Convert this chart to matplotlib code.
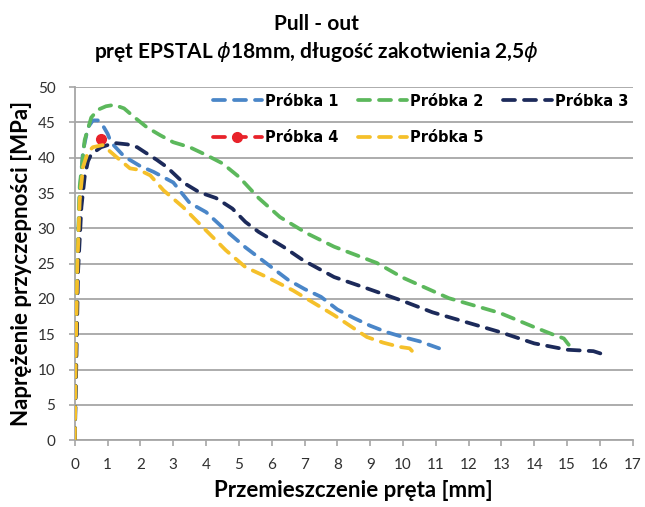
import matplotlib
matplotlib.use("Agg")
import matplotlib.pyplot as plt

plt.rcParams['font.family'] = ['Lato', 'DejaVu Sans']
plt.rcParams['mathtext.fontset'] = 'dejavusans'

# ---- data ----
x1 = [0, 0.03, 0.08, 0.15, 0.25, 0.4, 0.55, 0.7, 0.85, 1.0, 1.1, 1.5, 2.0, 2.4, 3.0, 3.5, 4.0, 4.6, 5.2,
      5.85, 6.5, 7.0, 7.5, 8.0, 8.5, 9.0, 9.5, 10.0, 10.5, 11.1]
y1 = [0, 12, 25, 35, 41, 44.3, 45.3, 45.3, 44.6, 43.4, 42.2, 40.2, 38.8, 38.0, 36.5, 33.6, 32.3, 29.7, 27.3,
      25.0, 22.7, 21.4, 20.3, 18.5, 17.3, 16.2, 15.3, 14.6, 14.0, 13.0]

x2 = [0, 0.03, 0.08, 0.15, 0.3, 0.5, 0.7, 0.95, 1.2, 1.5, 1.8, 2.2, 2.6, 3.0, 3.5, 4.0, 4.5, 5.0, 5.6,
      6.25, 7.07, 7.9, 9.2, 10.0, 11.4, 12.96, 14.0, 14.6, 14.9, 15.05]
y2 = [0, 12, 26, 36, 42.5, 45.7, 46.8, 47.3, 47.5, 47.0, 45.8, 44.3, 43.2, 42.2, 41.5, 40.4, 39.2, 37.3, 34.3,
      31.6, 29.3, 27.4, 25.1, 23.0, 20.1, 18.0, 16.0, 14.9, 14.4, 13.5]

x3 = [0, 0.05, 0.1, 0.2, 0.3, 0.4, 0.5, 0.8, 1.2, 1.6, 1.9, 2.13, 2.5, 2.8, 3.3, 3.8, 4.3, 4.8, 5.2, 5.6,
      6.35, 6.95, 7.9, 8.9, 10.0, 10.9, 12.96, 14.0, 15.0, 15.8, 16.2]
y3 = [0, 12, 24, 33, 37.3, 39.5, 40.5, 41.5, 42.1, 41.9, 41.5, 40.8, 39.7, 38.7, 36.5, 35.1, 34.3, 32.8, 30.9, 29.5,
      27.4, 25.5, 23.1, 21.5, 19.7, 18.1, 15.3, 13.7, 12.8, 12.6, 12.0]

x4 = [0.8]
y4 = [42.6]

x5 = [0, 0.03, 0.08, 0.15, 0.25, 0.4, 0.55, 0.85, 1.27, 1.68, 1.95, 2.3, 2.7, 3.3, 4.0, 4.6, 5.2, 5.85, 6.65,
      7.9, 8.9, 9.4, 9.9, 10.2, 10.4]
y5 = [0, 12, 25, 34, 38.7, 40.8, 41.5, 41.8, 40.1, 38.5, 38.3, 37.5, 35.4, 33.0, 29.7, 26.9, 24.5, 23.1, 21.2,
      17.7, 14.6, 13.8, 13.2, 13.0, 12.0]

labels = ['Próbka 1', 'Próbka 2', 'Próbka 3', 'Próbka 4', 'Próbka 5']
colors = ['#4A86C8', '#5CB85C', '#1C2A5A', '#E8222A', '#F5C02A']

xticks = list(range(0, 18))
yticks = list(range(0, 51, 5))

fig = plt.figure(figsize=(6.45, 5.07), dpi=100)
ax = fig.add_axes([0.116, 0.132, 0.865, 0.696])

dash = (3.2, 2.4)
series = [(x1, y1), (x2, y2), (x3, y3), (x4, y4), (x5, y5)]
handles = {}
for i, ((xs, ys), lab, c) in enumerate(zip(series, labels, colors)):
    if i == 3:
        h, = ax.plot(xs, ys, color=c, lw=2.7, dashes=dash, marker='o', markersize=7,
                     dash_capstyle='round', label=lab, zorder=3)
    else:
        h, = ax.plot(xs, ys, color=c, lw=2.7, dashes=dash, dash_capstyle='round',
                     solid_capstyle='round', label=lab, zorder=3 if i != 4 else 4)
    handles[lab] = h

ax.set_xlim(0, 17)
ax.set_ylim(0, 50)
ax.set_xticks(xticks)
ax.set_yticks(yticks)
ax.tick_params(axis='both', labelsize=11, colors='#A6A6A6', labelcolor='#303030', length=4, width=1.2)
ax.tick_params(axis='y', pad=10)
ax.tick_params(axis='x', pad=9)
ax.yaxis.grid(True, color='#A6A6A6', lw=1.3)
ax.set_axisbelow(True)
for s in ['top', 'right']:
    ax.spines[s].set_visible(False)
for s in ['left', 'bottom']:
    ax.spines[s].set_color('#A6A6A6')
    ax.spines[s].set_linewidth(1.3)

ax.set_xlabel('Przemieszczenie pręta [mm]', fontsize=16, fontweight='bold', labelpad=6)
ax.set_ylabel('Naprężenie przyczepności [MPa]', fontsize=16, fontweight='bold', labelpad=4)

fig.text(0.491, 0.953, 'Pull - out', ha='center', va='center', fontsize=15, fontweight='bold')
fig.text(0.491, 0.897, r'pręt EPSTAL $\phi$18mm, długość zakotwienia 2,5$\phi$', ha='center', va='center',
         fontsize=15, fontweight='bold')

order = ['Próbka 1', 'Próbka 4', 'Próbka 2', 'Próbka 5', 'Próbka 3']
ax.legend([handles[l] for l in order], order, loc='upper left', bbox_to_anchor=(0.247, 0.982),
          borderaxespad=0, borderpad=0,
          ncol=3, frameon=False, prop={'family': 'DejaVu Sans', 'weight': 'bold', 'size': 10.5},
          handlelength=3.36, columnspacing=1.37, handletextpad=0.2, labelspacing=1.5)

fig.savefig('out.png', dpi=100)
